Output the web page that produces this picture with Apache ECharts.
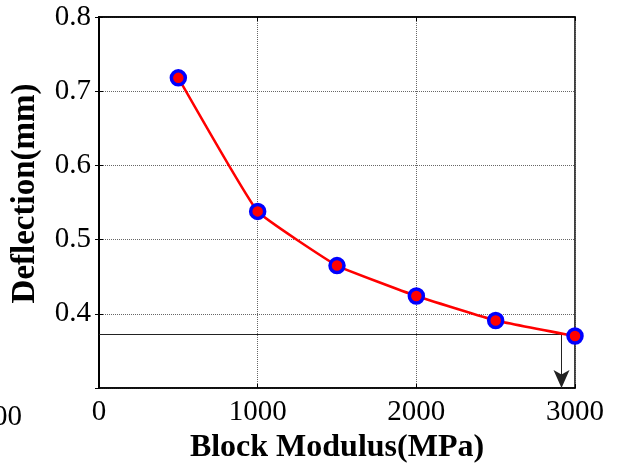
<!DOCTYPE html>
<html>
<head>
<meta charset="utf-8">
<script src="https://cdn.jsdelivr.net/npm/echarts@6/dist/echarts.min.js"></script>
<style>
  html, body { margin: 0; padding: 0; background: #fff; }
  #chart { width: 617px; height: 464px; }
</style>
</head>
<body>
<div id="chart"></div>
<script>
// data
const modulus = [500, 1000, 1500, 2000, 2500, 3000]
const deflection = [0.718, 0.538, 0.465, 0.424, 0.391, 0.370]
const xTicks = [0, 1000, 2000, 3000]
const yTicks = [0.4, 0.5, 0.6, 0.7, 0.8]
// guide line: across to the curve, then down to the axis
const guideY = 0.373
const guideX = 2915
const yMin = 0.3

const font = "'Liberation Serif', serif"

const chart = echarts.init(document.getElementById('chart'))

const option = {
  animation: false,
  backgroundColor: '#fff',
  grid: {
    left: 99,
    right: 42,
    top: 17,
    bottom: 76,
    outerBoundsMode: 'none',
    show: true,
    borderColor: '#000',
    borderWidth: 1.5
  },
  xAxis: [
    {
      type: 'value',
      min: xTicks[0],
      max: xTicks[xTicks.length - 1],
      interval: 1000,
      name: 'Block Modulus(MPa)',
      nameLocation: 'middle',
      nameGap: 40,
      nameTextStyle: {fontFamily: font, fontWeight: 'bold', fontSize: 32, color: '#000'},
      axisLine: {show: true, onZero: false, lineStyle: {color: '#000', width: 1.5}},
      axisTick: {show: true, inside: true, length: 4, lineStyle: {color: '#000'}},
      axisLabel: {
        fontFamily: font, fontSize: 29, color: '#000', margin: 10,
        formatter: (v) => String(v)
      },
      splitLine: {show: true, lineStyle: {type: 'dotted', color: '#666', width: 1}}
    },
    {
      type: 'value',
      position: 'top',
      min: xTicks[0],
      max: xTicks[xTicks.length - 1],
      interval: 1000,
      axisLine: {show: true, lineStyle: {color: '#000', width: 1.5}},
      axisTick: {show: true, inside: true, length: 4, lineStyle: {color: '#000'}},
      axisLabel: {show: false},
      splitLine: {show: false}
    }
  ],
  yAxis: [
    {
      type: 'value',
      min: yMin,
      max: yTicks[yTicks.length - 1],
      interval: 0.1,
      name: 'Deflection(mm)',
      nameLocation: 'middle',
      nameGap: 57,
      nameTextStyle: {fontFamily: font, fontWeight: 'bold', fontSize: 33, color: '#000', padding: [0, 0, 0, 18]},
      axisLine: {show: true, onZero: false, lineStyle: {color: '#000', width: 1.5}},
      axisTick: {show: true, inside: true, length: 4, lineStyle: {color: '#000'}},
      axisLabel: {
        fontFamily: font, fontSize: 29, color: '#000', margin: 8,
        showMinLabel: false,
        formatter: (v) => v.toFixed(1)
      },
      splitLine: {show: true, lineStyle: {type: 'dotted', color: '#666', width: 1}}
    },
    {
      type: 'value',
      position: 'right',
      min: yMin,
      max: yTicks[yTicks.length - 1],
      interval: 0.1,
      axisLine: {show: true, lineStyle: {color: '#000', width: 2}},
      axisTick: {show: true, inside: true, length: 4, lineStyle: {color: '#000'}},
      axisLabel: {show: false},
      splitLine: {show: false}
    }
  ],
  graphic: [
    {
      type: 'text',
      right: 595,
      top: 403,
      style: {text: '00', font: "29px 'Liberation Serif', serif", fill: '#000'}
    }
  ],
  series: [
    {
      type: 'line',
      data: modulus.map((m, i) => [m, deflection[i]]),
      smooth: 0.1,
      symbol: 'circle',
      symbolSize: 14,
      lineStyle: {color: '#ff0000', width: 2.5},
      itemStyle: {color: '#ff0000', borderColor: '#0000ff', borderWidth: 3.5},
      z: 5,
      markLine: {
        silent: true,
        animation: false,
        label: {show: false},
        lineStyle: {color: '#222', width: 1, type: 'solid'},
        symbolSize: [12, 18],
        data: [
          [
            {coord: [xTicks[0], guideY], symbol: 'none'},
            {coord: [guideX, guideY], symbol: 'none'}
          ],
          [
            {coord: [guideX, guideY], symbol: 'none'},
            {coord: [guideX, yMin], symbol: 'arrow', itemStyle: {color: '#000'}}
          ]
        ]
      }
    }
  ]
}

option && chart.setOption(option)
</script>
</body>
</html>
